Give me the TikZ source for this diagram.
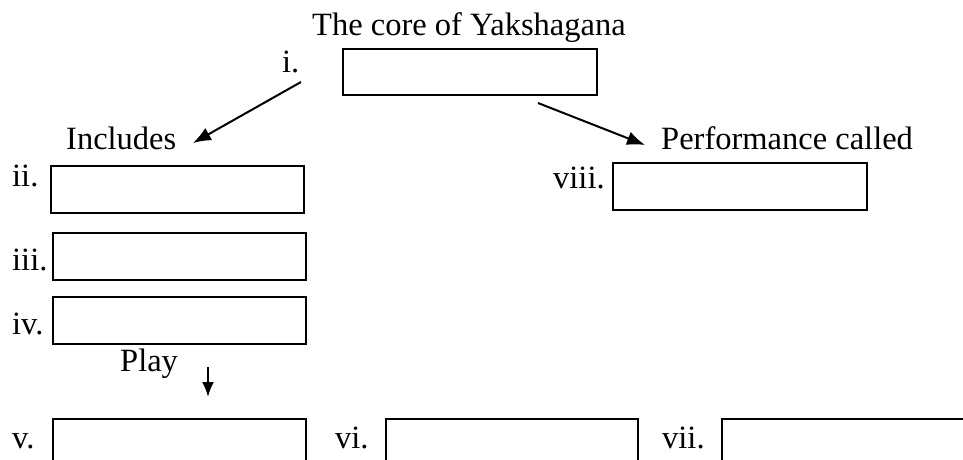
\documentclass[tikz,border=0pt]{standalone}
\usepackage{fontspec}
\setmainfont{Liberation Serif}
\usetikzlibrary{arrows.meta}
\tikzset{
  box/.style={draw, line width=2pt, anchor=north west, inner sep=0pt, minimum height=47pt},
  lbl/.style={anchor=base west, inner sep=0pt, font=\fontsize{32.5}{36}\selectfont},
  conn/.style={line width=2pt, -{Latex[length=18pt,width=14pt]}},
  connsmall/.style={line width=2pt, -{Latex[length=15pt,width=12pt]}}
}
\begin{document}
\begin{tikzpicture}[x=1pt,y=-1pt]
\useasboundingbox (0,0) rectangle (963,460);
\clip (0,0) rectangle (963,460);
% boxes
\node[box, minimum width=254pt, minimum height=46pt] (bi) at (342,48) {};
\node[box, minimum width=253pt] (bii) at (50,165) {};
\node[box, minimum width=253pt] (biii) at (52,232) {};
\node[box, minimum width=253pt] (biv) at (52,296) {};
\node[box, minimum width=254pt] (bviii) at (612,162) {};
\node[box, minimum width=253pt, minimum height=70pt] (bv) at (52,418) {};
\node[box, minimum width=252pt, minimum height=70pt] (bvi) at (385,418) {};
\node[box, minimum width=300pt, minimum height=70pt] (bvii) at (721,418) {};
% labels
\node[lbl] (title) at (312,36) {The core of Yakshagana};
\node[lbl] (li) at (282,73) {i.};
\node[lbl] (incl) at (66,149) {Includes};
\node[lbl] (lii) at (12,186) {ii.};
\node[lbl] (perf) at (661,149) {Performance called};
\node[lbl] (lviii) at (553,188) {viii.};
\node[lbl] (liii) at (12,270) {iii.};
\node[lbl] (liv) at (12,334) {iv.};
\node[lbl] (play) at (120,371) {Play};
\node[lbl] (lv) at (12,448) {v.};
\node[lbl] (lvi) at (335,448) {vi.};
\node[lbl] (lvii) at (662,448) {vii.};
% connectors
\coordinate (a1s) at (301,82);
\coordinate (a1e) at (193,143);
\coordinate (a2s) at (538,103);
\coordinate (a2e) at (645,145);
\coordinate (a3s) at (208,367);
\coordinate (a3e) at (208,397);
\draw[conn] (a1s) -- (a1e);
\draw[conn] (a2s) -- (a2e);
\draw[connsmall] (a3s) -- (a3e);
\end{tikzpicture}
\end{document}
